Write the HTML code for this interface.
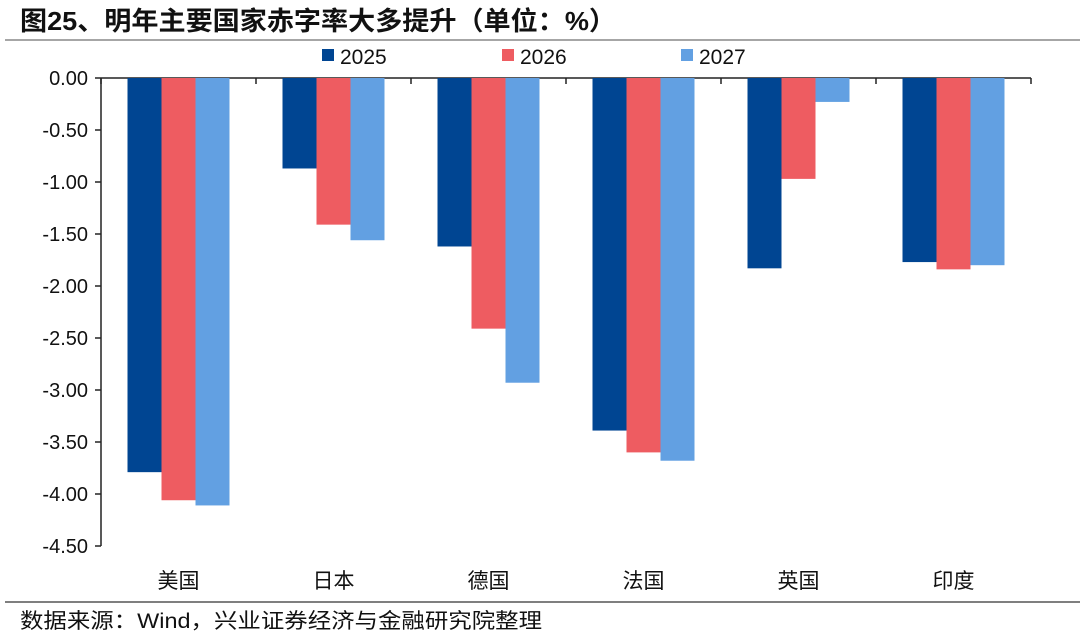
<!DOCTYPE html>
<html><head><meta charset="utf-8"><style>
body{margin:0;background:#fff;}
svg text{font-family:"Liberation Sans","Noto Sans CJK SC",sans-serif;}
</style></head><body>
<svg width="1080" height="635" viewBox="0 0 1080 635">
<text x="20" y="30" font-size="26" font-weight="bold" fill="#111" textLength="596" lengthAdjust="spacingAndGlyphs">图25、明年主要国家赤字率大多提升（单位：%）</text>
<line x1="5" y1="40" x2="1080" y2="40" stroke="#888" stroke-width="1.5"/>
<line x1="5" y1="602" x2="1080" y2="602" stroke="#555" stroke-width="1.5"/>
<text x="20" y="628" font-size="21" fill="#111" textLength="522" lengthAdjust="spacingAndGlyphs">数据来源：Wind，兴业证券经济与金融研究院整理</text>
<g id="legend"></g>
<g id="axes"></g>
<g id="bars"></g>
</svg>
<script>
const categories=["美国","日本","德国","法国","英国","印度"];
const seriesNames=["2025","2026","2027"];
const s2025=[-3.79,-0.87,-1.62,-3.39,-1.83,-1.77];
const s2026=[-4.06,-1.41,-2.41,-3.60,-0.97,-1.84];
const s2027=[-4.11,-1.56,-2.93,-3.68,-0.23,-1.80];
const yTicks=[0,-0.5,-1,-1.5,-2,-2.5,-3,-3.5,-4,-4.5];
const colors=["#004592","#ee5c61","#62a0e2"];
const NS="http://www.w3.org/2000/svg";
const X0=101,band=155,Y0=78,ppu=104,bw=34;
const y=v=>Y0-v*ppu;
const xc=i=>X0+band*(i+0.5);
function mk(tag,attrs,parent){const e=document.createElementNS(NS,tag);for(const k in attrs)e.setAttribute(k,attrs[k]);parent.appendChild(e);return e;}
const axes=document.getElementById('axes'),bars=document.getElementById('bars'),legend=document.getElementById('legend');
const series=[s2025,s2026,s2027];
series.forEach((s,j)=>{s.forEach((v,i)=>{
 const r=mk('rect',{x:xc(i)+(j-1.5)*bw,y:y(0),width:bw,height:y(v)-y(0),fill:colors[j]},bars);
 
 
});});
const ax=mk('line',{x1:X0,y1:y(0),x2:X0,y2:y(-4.5),stroke:'#222','stroke-width':1.5},axes);


yTicks.forEach(t=>{
 mk('line',{x1:X0-6,y1:y(t),x2:X0,y2:y(t),stroke:'#222','stroke-width':1.5},axes);
 const tx=mk('text',{x:88,y:y(t)+7,'font-size':20,'text-anchor':'end',fill:'#111'},axes);
 tx.textContent=t.toFixed(2);
 
 
});
const zl=mk('line',{x1:X0,y1:y(0),x2:X0+band*6,y2:y(0),stroke:'#222','stroke-width':1.5},axes);


for(let i=0;i<=6;i++)mk('line',{x1:X0+band*i,y1:y(0),x2:X0+band*i,y2:y(0)+6,stroke:'#222','stroke-width':1.5},axes);
categories.forEach((c,i)=>{
 const tx=mk('text',{x:xc(i),y:588,'font-size':21,'text-anchor':'middle',fill:'#111'},axes);
 tx.textContent=c;
 
 
});
const lx=[322,502,681];
seriesNames.forEach((n,j)=>{
 const g=mk('g',{},legend);
 
 
 mk('rect',{x:lx[j],y:49,width:12,height:12,fill:colors[j]},g);
 const t=mk('text',{x:lx[j]+18,y:64,'font-size':21,fill:'#111'},g);
 t.textContent=n;
});
</script>
</body></html>
